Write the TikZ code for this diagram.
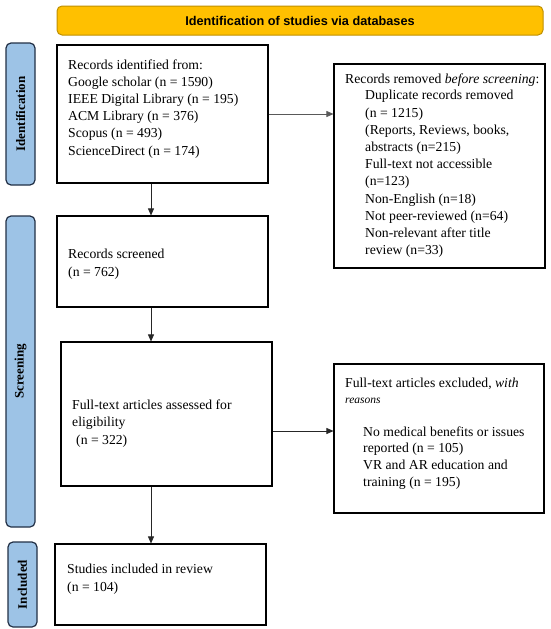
\documentclass[tikz,border=0pt]{standalone}
\usepackage{fontspec}
\setmainfont{Liberation Serif}
\newfontfamily\hdrfont{Liberation Sans}
\usetikzlibrary{arrows.meta}
\definecolor{gold}{RGB}{255,192,0}
\definecolor{golddark}{RGB}{191,144,0}
\definecolor{sideblue}{RGB}{157,195,230}
\definecolor{sidedark}{RGB}{34,48,70}
\tikzset{
  boxnode/.style={draw=black, line width=1.1pt, minimum width=211pt, inner sep=0pt},
  txt/.style={inner sep=0pt, anchor=base west, align=left, font=\fontsize{13.7}{17.2}\selectfont},
  sidelab/.style={draw=sidedark, fill=sideblue, line width=1.2pt, rounded corners=5pt, rotate=90,
     minimum height=29pt, inner sep=0pt, font=\fontsize{13}{14}\selectfont\bfseries},
  arr/.style={-{Triangle[length=7pt,width=6pt]}, line width=0.7pt, draw=black!85},
}
\begin{document}
\begin{tikzpicture}[x=1pt,y=-1pt]
\useasboundingbox[fill=white] (0,0) rectangle (550,629);
% banner
\node[draw=golddark, fill=gold, line width=1pt, rounded corners=5pt, minimum width=486pt, minimum height=29pt,
  font=\hdrfont\fontsize{12.7}{14}\selectfont\bfseries] (banner) at (300,20.5) {Identification of studies via databases};
% side labels
\node[sidelab, minimum width=142pt] (sid) at (20.5,114) {Identification};
\node[sidelab, minimum width=311pt] (sscr) at (20.5,371.5) {Screening};
\node[sidelab, minimum width=85pt] (sinc) at (22.5,584.5) {Included};
% boxes
\node[boxnode, minimum height=138pt] (b1) at (162.5,114) {};
\node[boxnode, minimum height=204pt] (rem) at (439.5,166) {};
\node[boxnode, minimum height=91pt] (b2) at (162.5,261.5) {};
\node[boxnode, minimum height=144pt] (b3) at (166.5,414) {};
\node[boxnode, minimum width=210pt, minimum height=149pt] (exc) at (439,438.5) {};
\node[boxnode, minimum height=81pt] (b4) at (160.5,584.5) {};
% texts
\node[txt] (t1) at (68,155) {Records identified from:\\Google scholar (n = 1590)\\IEEE Digital Library (n = 195)\\ACM Library (n = 376)\\Scopus (n = 493)\\ScienceDirect (n = 174)};
\node[txt] (trem1) at (345,83) {Records removed \textit{before screening}:};
\node[txt] (trem2) at (365,254.7) {Duplicate records removed\\(n = 1215)\\(Reports, Reviews, books,\\abstracts (n=215)\\Full-text not accessible\\(n=123)\\Non-English (n=18)\\Not peer-reviewed (n=64)\\Non-relevant after title\\review (n=33)};
\node[txt] (t2) at (68,276) {Records screened\\(n = 762)};
\node[txt] (t3) at (72,444) {Full-text articles assessed for\\eligibility\\\hspace*{4pt}(n = 322)};
\node[txt] (texc1) at (345,387) {Full-text articles excluded, \textit{with}};
\node[txt, font=\fontsize{11.5}{12}\selectfont\itshape] (texcr) at (345,403) {reasons};
\node[txt, font=\fontsize{13.7}{16.6}\selectfont] (texc2) at (363,486) {No medical benefits or issues\\reported (n = 105)\\VR and AR education and\\training (n = 195)};
\node[txt] (t4) at (67,591) {Studies included in review\\(n = 104)};
% connectors
\coordinate (ax) at (151,0);
\coordinate (ay) at (0,431);
\draw[arr, draw=black!65] (b1.east) -- (b1.east -| rem.west);
\draw[arr] (b1.south -| ax) -- (b2.north -| ax);
\draw[arr] (b2.south -| ax) -- (b3.north -| ax);
\draw[arr] (b3.east |- ay) -- (exc.west |- ay);
\draw[arr] (b3.south -| ax) -- (b4.north -| ax);
\end{tikzpicture}
\end{document}
